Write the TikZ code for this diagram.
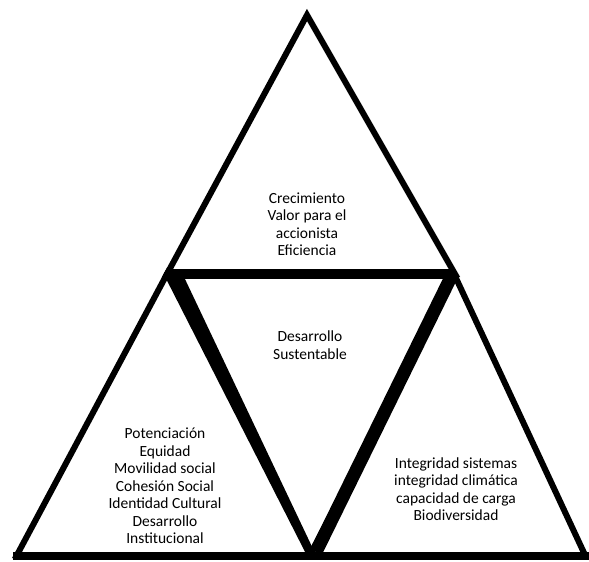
\documentclass[tikz,border=0pt]{standalone}
\usepackage{fontspec}
\setmainfont{Carlito}
\tikzstyle{triangles}=[%
	every path/.style = {%
		black,
		line width=6pt
	},%
	blocktext/.style={%
		align=center,
		font=\fontsize{15.5}{17.5}\selectfont,
		inner sep=0pt
	}
]

\begin{document}
\begin{tikzpicture}[
	x=1pt, y=-1pt,
	triangles
]
	\useasboundingbox[draw=none, fill=white] (0,0) rectangle (589,562);

	% the three outer triangles
	\draw (307,15) -- (455,274) -- (167,274) -- cycle;
	\draw (167,274) -- (310,555) -- (17,555) -- cycle;
	\draw (455,276) -- (585,555) -- (310,555) -- cycle;

	% heavier strokes of the middle triangle
	\draw[line width=10pt] (167,274) -- (455,274);
	\draw[line width=8pt] (13,556) -- (589,556);
	\fill (164,272) -- (184,277) -- (315,553) -- (307,553) -- cycle;
	\draw[line width=13pt] (451,277) -- (316,552);

	\node[blocktext] (growth) at (307,224) {Crecimiento\\Valor para el\\accionista\\Eficiencia};
	\node[blocktext] (sustain) at (310,345) {Desarrollo\\Sustentable};
	\node[blocktext] (social) at (165,486) {Potenciación\\Equidad\\Movilidad social\\Cohesión Social\\Identidad Cultural\\Desarrollo\\Institucional};
	\node[blocktext] (nature) at (456,489) {Integridad sistemas\\integridad climática\\capacidad de carga\\Biodiversidad};
\end{tikzpicture}
\end{document}
